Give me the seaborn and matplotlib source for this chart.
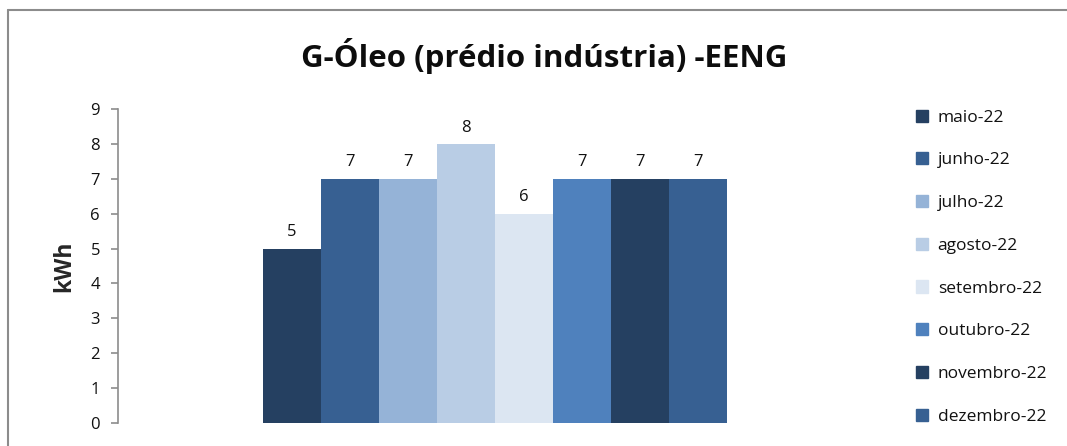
import matplotlib
matplotlib.use('Agg')
import matplotlib.pyplot as plt
import seaborn as sns
import pandas as pd
from matplotlib.lines import Line2D

# --------------------------------------------------------------------------
# data
# --------------------------------------------------------------------------
months = ['maio-22', 'junho-22', 'julho-22', 'agosto-22', 'setembro-22',
          'outubro-22', 'novembro-22', 'dezembro-22']
kwh = [5, 7, 7, 8, 6, 7, 7, 7]
colors = ['#254061', '#376092', '#95B3D7', '#B9CDE5', '#DCE6F2',
          '#4F81BD', '#254061', '#376092']
title = 'G-Óleo (prédio indústria) -EENG'
ylabel = 'kWh'

df = pd.DataFrame({'mes': months, 'kwh': kwh})

# --------------------------------------------------------------------------
# plot
# --------------------------------------------------------------------------
sns.set_style('white')
plt.rcParams['font.family'] = ['Open Sans', 'DejaVu Sans']

fig = plt.figure(figsize=(10.67, 4.46), dpi=100)
ax = fig.add_axes([0.1106, 0.0516, 0.7067, 0.704])

sns.barplot(data=df, x='mes', y='kwh', hue='mes', palette=colors,
            width=1.0, dodge=False, legend=False, saturation=1,
            linewidth=0, ax=ax)

for i, v in enumerate(kwh):
    ax.annotate(str(v), (i, v), xytext=(0, 6), textcoords='offset points',
                ha='center', va='bottom', fontsize=12, color='#111111')

ax.set_xlim(-3, 10)
ax.set_ylim(0, 9)
ax.set_yticks(range(0, 10))
ax.set_xticks([])
ax.set_xlabel('')
ax.set_ylabel(ylabel, fontsize=16.5, fontweight='bold', labelpad=10)
ax.tick_params(axis='y', left=True, direction='out', length=5, width=1.2,
               color='#8c8c8c', labelsize=12, pad=8, labelcolor='#111111')
for s in ['top', 'right', 'bottom']:
    ax.spines[s].set_visible(False)
ax.spines['left'].set_color('#8c8c8c')
ax.spines['left'].set_linewidth(1.2)

fig.text(0.51, 0.875, title, ha='center', va='center',
         fontsize=22.5, fontweight='bold', color='#0d0d0d')

handles = [plt.Rectangle((0, 0), 1, 1, color=c) for c in colors]
fig.legend(handles, months, loc='upper left', bbox_to_anchor=(0.852, 0.77),
           frameon=False, fontsize=12.5, handlelength=0.7, handleheight=0.7,
           handletextpad=0.55, labelspacing=1.53, borderaxespad=0,
           labelcolor='#111111')

# outer frame (left and top edges)
fig.add_artist(Line2D([0.0075, 0.0075], [0, 0.9776], color='#8c8c8c', lw=1.5))
fig.add_artist(Line2D([0.0075, 1], [0.9776, 0.9776], color='#8c8c8c', lw=1.5))

fig.savefig('out.png', dpi=100)
